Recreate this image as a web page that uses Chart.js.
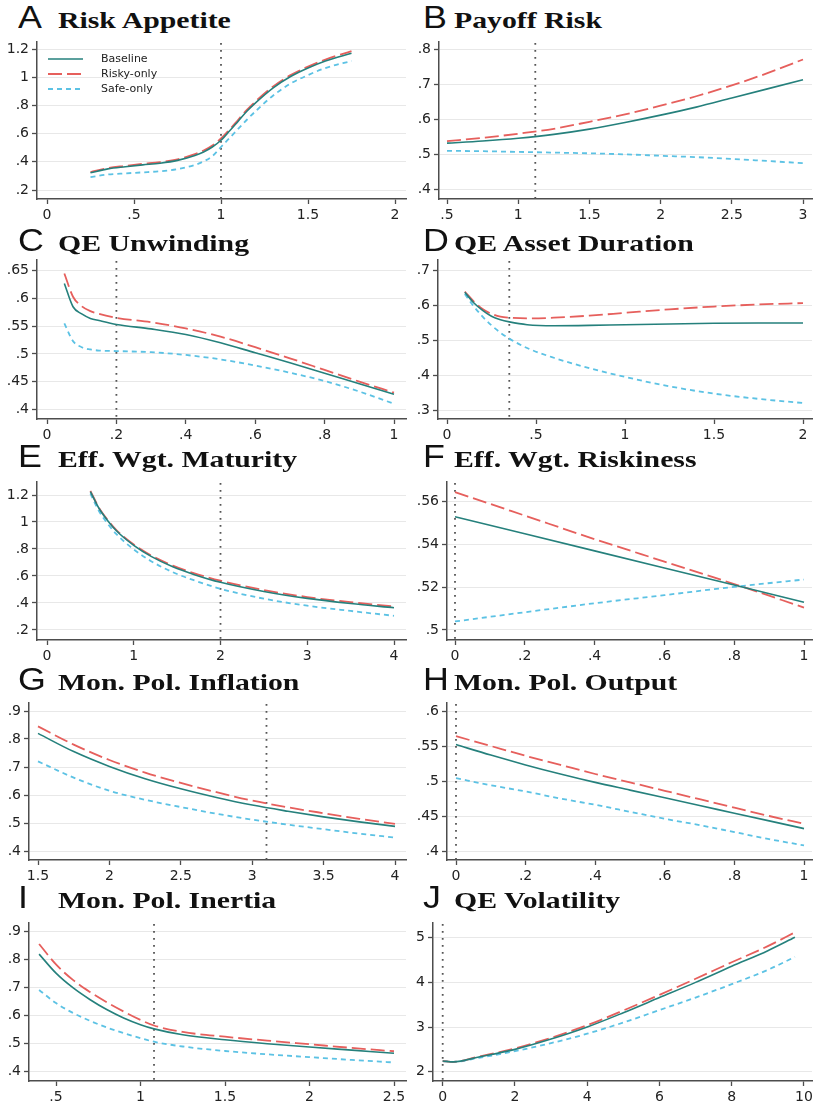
<!DOCTYPE html>
<html>
<head>
<meta charset="utf-8">
<title>Sensitivity panels</title>
<script src="https://cdn.jsdelivr.net/npm/chart.js@4.4.1/dist/chart.umd.min.js"></script>
<style>
  html, body { margin: 0; padding: 0; background: #fff; }
  body { width: 813px; height: 1106px; position: relative; overflow: hidden; }
  canvas { position: absolute; }
  .letter {
    position: absolute; font: 32px "Liberation Sans", Arial, sans-serif; line-height: 1;
    color: #111; transform: scaleX(1.12); transform-origin: 0 0; white-space: nowrap;
  }
  .title {
    position: absolute; font: bold 24px "Liberation Serif", "Times New Roman", serif; line-height: 1;
    color: #111; transform: scaleX(1.24); transform-origin: 0 0; white-space: nowrap;
  }
</style>
</head>
<body>
<script>
const seriesLabels = ["Baseline", "Risky-only", "Safe-only"];
const panelLetters = ["A", "B", "C", "D", "E", "F", "G", "H", "I", "J"];
const panelTitles = [
  "Risk Appetite", "Payoff Risk", "QE Unwinding", "QE Asset Duration",
  "Eff. Wgt. Maturity", "Eff. Wgt. Riskiness", "Mon. Pol. Inflation",
  "Mon. Pol. Output", "Mon. Pol. Inertia", "QE Volatility"
];

// A Risk Appetite
const appetiteX = [0.25, 0.35, 0.45, 0.55, 0.65, 0.75, 0.85, 0.9, 0.95, 1.0, 1.05, 1.1, 1.15, 1.2, 1.3, 1.4, 1.5, 1.6, 1.75];
const appetiteBase = [0.322, 0.35, 0.365, 0.378, 0.39, 0.41, 0.445, 0.47, 0.505, 0.553, 0.62, 0.69, 0.76, 0.82, 0.925, 1.005, 1.065, 1.115, 1.17];
const appetiteRisky = [0.327, 0.356, 0.371, 0.385, 0.398, 0.418, 0.454, 0.48, 0.516, 0.565, 0.63, 0.70, 0.77, 0.83, 0.935, 1.015, 1.075, 1.125, 1.185];
const appetiteSafe = [0.292, 0.31, 0.318, 0.325, 0.333, 0.348, 0.378, 0.403, 0.44, 0.505, 0.57, 0.635, 0.70, 0.76, 0.87, 0.955, 1.015, 1.065, 1.115];
const appetiteXTicks = [0, 0.5, 1, 1.5, 2];
const appetiteYTicks = [0.2, 0.4, 0.6, 0.8, 1, 1.2];
const appetiteMark = 1;

// B Payoff Risk
const payoffX = [0.5, 0.75, 1.0, 1.25, 1.5, 1.75, 2.0, 2.25, 2.5, 2.75, 3.0];
const payoffBase = [0.531, 0.537, 0.545, 0.556, 0.571, 0.59, 0.611, 0.634, 0.66, 0.686, 0.712];
const payoffRisky = [0.537, 0.546, 0.558, 0.572, 0.592, 0.613, 0.638, 0.665, 0.696, 0.731, 0.77];
const payoffSafe = [0.509, 0.508, 0.506, 0.504, 0.502, 0.499, 0.495, 0.491, 0.486, 0.48, 0.474];
const payoffXTicks = [0.5, 1, 1.5, 2, 2.5, 3];
const payoffYTicks = [0.4, 0.5, 0.6, 0.7, 0.8];
const payoffMark = 1.12;

// C QE Unwinding
const unwindX = [0.05, 0.075, 0.1, 0.125, 0.15, 0.2, 0.3, 0.4, 0.5, 0.6, 0.7, 0.8, 0.9, 1.0];
const unwindBase = [0.627, 0.585, 0.572, 0.564, 0.56, 0.553, 0.545, 0.535, 0.52, 0.502, 0.484, 0.465, 0.446, 0.427];
const unwindRisky = [0.645, 0.603, 0.586, 0.577, 0.572, 0.565, 0.557, 0.546, 0.531, 0.512, 0.492, 0.471, 0.45, 0.43];
const unwindSafe = [0.555, 0.523, 0.512, 0.508, 0.506, 0.505, 0.503, 0.498, 0.49, 0.479, 0.466, 0.451, 0.432, 0.41];
const unwindXTicks = [0, 0.2, 0.4, 0.6, 0.8, 1];
const unwindYTicks = [0.4, 0.45, 0.5, 0.55, 0.6, 0.65];
const unwindMark = 0.2;

// D QE Asset Duration
const durationX = [0.1, 0.15, 0.2, 0.25, 0.3, 0.35, 0.45, 0.6, 0.8, 1.0, 1.25, 1.5, 1.75, 2.0];
const durationBase = [0.638, 0.608, 0.586, 0.569, 0.559, 0.553, 0.545, 0.542, 0.543, 0.545, 0.547, 0.549, 0.55, 0.55];
const durationRisky = [0.64, 0.612, 0.59, 0.576, 0.568, 0.565, 0.563, 0.565, 0.571, 0.579, 0.589, 0.597, 0.603, 0.607];
const durationSafe = [0.633, 0.598, 0.568, 0.543, 0.522, 0.505, 0.478, 0.45, 0.42, 0.395, 0.368, 0.347, 0.332, 0.32];
const durationXTicks = [0, 0.5, 1, 1.5, 2];
const durationYTicks = [0.3, 0.4, 0.5, 0.6, 0.7];
const durationMark = 0.35;

// E Eff. Wgt. Maturity
const maturityX = [0.5, 0.6, 0.7, 0.8, 1.0, 1.2, 1.45, 1.7, 2.0, 2.5, 3.0, 3.5, 4.0];
const maturityBase = [1.225, 1.1, 1.01, 0.935, 0.827, 0.745, 0.668, 0.61, 0.553, 0.485, 0.434, 0.396, 0.365];
const maturityRisky = [1.23, 1.105, 1.015, 0.94, 0.833, 0.752, 0.677, 0.62, 0.565, 0.496, 0.444, 0.406, 0.375];
const maturitySafe = [1.21, 1.08, 0.987, 0.91, 0.797, 0.71, 0.628, 0.567, 0.505, 0.432, 0.38, 0.341, 0.305];
const maturityXTicks = [0, 1, 2, 3, 4];
const maturityYTicks = [0.2, 0.4, 0.6, 0.8, 1, 1.2];
const maturityMark = 2;

// F Eff. Wgt. Riskiness
const riskinessX = [0, 0.2, 0.4, 0.6, 0.8, 1.0];
const riskinessBase = [0.553, 0.545, 0.537, 0.529, 0.521, 0.513];
const riskinessRisky = [0.5645, 0.5535, 0.5425, 0.532, 0.5215, 0.5105];
const riskinessSafe = [0.504, 0.5083, 0.5125, 0.5163, 0.5202, 0.5236];
const riskinessXTicks = [0, 0.2, 0.4, 0.6, 0.8, 1];
const riskinessYTicks = [0.5, 0.52, 0.54, 0.56];
const riskinessMark = 0;

// G Mon. Pol. Inflation
const inflationX = [1.5, 1.75, 2.0, 2.25, 2.5, 2.75, 3.0, 3.25, 3.5, 3.75, 4.0];
const inflationBase = [0.82, 0.755, 0.702, 0.658, 0.622, 0.591, 0.564, 0.542, 0.522, 0.504, 0.488];
const inflationRisky = [0.845, 0.78, 0.725, 0.68, 0.643, 0.61, 0.58, 0.556, 0.535, 0.515, 0.497];
const inflationSafe = [0.72, 0.662, 0.615, 0.583, 0.557, 0.533, 0.512, 0.494, 0.478, 0.462, 0.448];
const inflationXTicks = [1.5, 2, 2.5, 3, 3.5, 4];
const inflationYTicks = [0.4, 0.5, 0.6, 0.7, 0.8, 0.9];
const inflationMark = 3.1;

// H Mon. Pol. Output
const outputX = [0, 0.1, 0.2, 0.3, 0.4, 0.5, 0.6, 0.7, 0.8, 0.9, 1.0];
const outputBase = [0.553, 0.538, 0.524, 0.511, 0.499, 0.488, 0.477, 0.466, 0.455, 0.444, 0.433];
const outputRisky = [0.565, 0.551, 0.537, 0.524, 0.511, 0.499, 0.487, 0.475, 0.463, 0.451, 0.44];
const outputSafe = [0.505, 0.495, 0.486, 0.476, 0.467, 0.457, 0.447, 0.438, 0.428, 0.418, 0.409];
const outputXTicks = [0, 0.2, 0.4, 0.6, 0.8, 1];
const outputYTicks = [0.4, 0.45, 0.5, 0.55, 0.6];
const outputMark = 0;

// I Mon. Pol. Inertia
const inertiaX = [0.4, 0.5, 0.6, 0.7, 0.8, 0.9, 1.0, 1.08, 1.25, 1.5, 1.75, 2.0, 2.25, 2.5];
const inertiaBase = [0.82, 0.752, 0.7, 0.658, 0.622, 0.592, 0.568, 0.553, 0.532, 0.514, 0.5, 0.488, 0.477, 0.466];
const inertiaRisky = [0.856, 0.783, 0.728, 0.685, 0.648, 0.615, 0.585, 0.565, 0.542, 0.525, 0.511, 0.498, 0.485, 0.473];
const inertiaSafe = [0.692, 0.645, 0.61, 0.582, 0.558, 0.538, 0.52, 0.507, 0.49, 0.474, 0.462, 0.452, 0.442, 0.433];
const inertiaXTicks = [0.5, 1, 1.5, 2, 2.5];
const inertiaYTicks = [0.4, 0.5, 0.6, 0.7, 0.8, 0.9];
const inertiaMark = 1.08;

// J QE Volatility
const volatilityX = [0, 0.3, 1, 2, 3, 4, 5, 6, 7, 8, 9, 9.75];
const volatilityBase = [2.24, 2.22, 2.33, 2.5, 2.73, 3.0, 3.32, 3.66, 4.0, 4.36, 4.71, 5.01];
const volatilityRisky = [2.24, 2.22, 2.34, 2.52, 2.76, 3.04, 3.37, 3.72, 4.08, 4.45, 4.81, 5.12];
const volatilitySafe = [2.24, 2.22, 2.31, 2.46, 2.64, 2.85, 3.1, 3.38, 3.66, 3.96, 4.28, 4.57];
const volatilityXTicks = [0, 2, 4, 6, 8, 10];
const volatilityYTicks = [2, 3, 4, 5];
const volatilityMark = 0;

const panels = [
  { x: appetiteX, series: [appetiteBase, appetiteRisky, appetiteSafe], xTicks: appetiteXTicks, yTicks: appetiteYTicks, mark: appetiteMark },
  { x: payoffX, series: [payoffBase, payoffRisky, payoffSafe], xTicks: payoffXTicks, yTicks: payoffYTicks, mark: payoffMark },
  { x: unwindX, series: [unwindBase, unwindRisky, unwindSafe], xTicks: unwindXTicks, yTicks: unwindYTicks, mark: unwindMark },
  { x: durationX, series: [durationBase, durationRisky, durationSafe], xTicks: durationXTicks, yTicks: durationYTicks, mark: durationMark },
  { x: maturityX, series: [maturityBase, maturityRisky, maturitySafe], xTicks: maturityXTicks, yTicks: maturityYTicks, mark: maturityMark },
  { x: riskinessX, series: [riskinessBase, riskinessRisky, riskinessSafe], xTicks: riskinessXTicks, yTicks: riskinessYTicks, mark: riskinessMark },
  { x: inflationX, series: [inflationBase, inflationRisky, inflationSafe], xTicks: inflationXTicks, yTicks: inflationYTicks, mark: inflationMark },
  { x: outputX, series: [outputBase, outputRisky, outputSafe], xTicks: outputXTicks, yTicks: outputYTicks, mark: outputMark },
  { x: inertiaX, series: [inertiaBase, inertiaRisky, inertiaSafe], xTicks: inertiaXTicks, yTicks: inertiaYTicks, mark: inertiaMark },
  { x: volatilityX, series: [volatilityBase, volatilityRisky, volatilitySafe], xTicks: volatilityXTicks, yTicks: volatilityYTicks, mark: volatilityMark },
];

// page layout: plot box in page pixels + two tick anchors per axis [v1, px1, v2, px2]
const rowBox = [[42, 199], [260, 419], [482, 640], [703, 860], [923, 1081]];
const titleBase = [28, 251, 467, 690, 908];
const layout = [
  { ox: 0,   L: 37,  R: 406, xa: [0, 47, 2, 395],        ya: [1.2, 49, 0.2, 190] },
  { ox: 405, L: 439, R: 812, xa: [0.5, 447, 3, 803],     ya: [0.8, 49, 0.4, 189] },
  { ox: 0,   L: 37,  R: 406, xa: [0, 47, 1, 394],        ya: [0.65, 270.7, 0.4, 409.3] },
  { ox: 405, L: 438, R: 812, xa: [0, 447, 2, 803],       ya: [0.7, 270.7, 0.3, 410] },
  { ox: 0,   L: 37,  R: 406, xa: [0, 47, 4, 394],        ya: [1.2, 495, 0.2, 630] },
  { ox: 405, L: 447, R: 812, xa: [0, 455, 1, 804],       ya: [0.56, 501.7, 0.5, 630] },
  { ox: 0,   L: 29,  R: 406, xa: [1.5, 38, 4, 395],      ya: [0.9, 711, 0.4, 851] },
  { ox: 405, L: 447, R: 812, xa: [0, 456, 1, 804],       ya: [0.6, 711.7, 0.4, 851.7] },
  { ox: 0,   L: 29,  R: 406, xa: [0.5, 56, 2.5, 394],    ya: [0.9, 931.7, 0.4, 1071.7] },
  { ox: 405, L: 433, R: 812, xa: [0, 442.7, 8, 731.7],   ya: [5, 937.7, 2, 1071.7] },
];

const colors = ["#25807c", "#e65f5c", "#5cc2e4"];
const dashes = [[], [14, 5], [5, 4]];
const widths = [1.6, 1.8, 1.8];
const AXIS = "#4d4d4d";
const GRID = "#e8e8e8";
const PAD_T = 12, PAD_R = 3, X_H = 32;

Chart.defaults.font.family = '"DejaVu Sans", sans-serif';

function fmt(v) {
  const s = String(Number(v.toFixed(4)));
  return s.replace(/^0\./, ".").replace(/^-0\./, "-.");
}

function edge(a, px) {
  return a[0] + (px - a[1]) * (a[2] - a[0]) / (a[3] - a[1]);
}

const markPlugin = {
  id: "markLine",
  beforeDatasetsDraw(chart, args, opts) {
    const { ctx, chartArea } = chart;
    const x = chart.scales.x.getPixelForValue(opts.value);
    ctx.save();
    ctx.strokeStyle = "#555";
    ctx.lineWidth = 1.8;
    ctx.setLineDash([1.8, 5.2]);
    ctx.beginPath();
    ctx.moveTo(x, chartArea.top + 1);
    ctx.lineTo(x, chartArea.bottom);
    ctx.stroke();
    ctx.restore();
  },
};

const keyPlugin = {
  id: "seriesKey",
  afterDraw(chart, args, opts) {
    if (!opts.show) return;
    const { ctx, chartArea } = chart;
    chart.data.datasets.forEach((ds, i) => {
      const y = chartArea.top + 17 + i * 15;
      ctx.save();
      ctx.strokeStyle = ds.borderColor;
      ctx.lineWidth = ds.borderWidth;
      ctx.setLineDash(ds.borderDash);
      ctx.beginPath();
      ctx.moveTo(chartArea.left + 11, y);
      ctx.lineTo(chartArea.left + 46, y);
      ctx.stroke();
      ctx.setLineDash([]);
      ctx.fillStyle = "#222";
      ctx.font = '11px "DejaVu Sans"';
      ctx.textBaseline = "middle";
      ctx.fillText(ds.label, chartArea.left + 64, y);
      ctx.restore();
    });
  },
};

function addText(cls, text, left, top) {
  const el = document.createElement("div");
  el.className = cls;
  el.textContent = text;
  el.style.left = left + "px";
  el.style.top = top + "px";
  document.body.appendChild(el);
}

panels.forEach((p, i) => {
  const lay = layout[i];
  const row = Math.floor(i / 2);
  const [T, B] = rowBox[row];
  const base = titleBase[row];

  addText("letter", panelLetters[i], lay.ox + 18, base - 27.1);
  addText("title", panelTitles[i], lay.ox + (i % 2 ? 49 : 58), base - 20.1);

  const canvas = document.createElement("canvas");
  const w = lay.R - lay.ox + PAD_R;
  const h = B - T + PAD_T + X_H;
  canvas.width = w;
  canvas.height = h;
  canvas.style.width = w + "px";
  canvas.style.height = h + "px";
  canvas.style.left = lay.ox + "px";
  canvas.style.top = (T - PAD_T) + "px";
  document.body.appendChild(canvas);

  const datasets = p.series.map((vals, k) => ({
    label: seriesLabels[k],
    data: p.x.map((x, j) => ({ x: x, y: vals[j] })),
    borderColor: colors[k],
    borderWidth: widths[k],
    borderDash: dashes[k],
    cubicInterpolationMode: "monotone",
    pointRadius: 0,
    fill: false,
  }));

  const tickFont = { family: '"DejaVu Sans", sans-serif', size: 14 };

  new Chart(canvas.getContext("2d"), {
    type: "line",
    data: { datasets: datasets },
    plugins: [markPlugin, keyPlugin],
    options: {
      responsive: false,
      animation: false,
      devicePixelRatio: 1,
      layout: { padding: { top: PAD_T, right: PAD_R, left: 0, bottom: 0 } },
      plugins: {
        legend: { display: false },
        tooltip: { enabled: false },
        markLine: { value: p.mark },
        seriesKey: { show: i === 0 },
      },
      scales: {
        x: {
          type: "linear",
          bounds: "data",
          min: edge(lay.xa, lay.L),
          max: edge(lay.xa, lay.R),
          afterBuildTicks: (s) => { s.ticks = p.xTicks.map((v) => ({ value: v })); },
          afterFit: (s) => { s.height = X_H; s.paddingLeft = 0; s.paddingRight = 0; },
          grid: { drawOnChartArea: false, tickLength: 5, tickColor: AXIS, tickWidth: 1.3 },
          border: { color: AXIS, width: 1.5 },
          ticks: { font: tickFont, color: "#222", padding: 3, maxRotation: 0, autoSkip: false, callback: (v) => fmt(v) },
        },
        y: {
          type: "linear",
          bounds: "data",
          min: edge(lay.ya, B),
          max: edge(lay.ya, T),
          afterBuildTicks: (s) => { s.ticks = p.yTicks.map((v) => ({ value: v })); },
          afterFit: (s) => { s.width = lay.L - lay.ox; s.paddingTop = 0; s.paddingBottom = 0; },
          grid: { color: GRID, lineWidth: 1, tickLength: 5, tickColor: AXIS, tickWidth: 1.3 },
          border: { color: AXIS, width: 1.5 },
          ticks: { font: tickFont, color: "#222", padding: 3, autoSkip: false, callback: (v) => fmt(v) },
        },
      },
    },
  });
});
</script>
</body>
</html>
